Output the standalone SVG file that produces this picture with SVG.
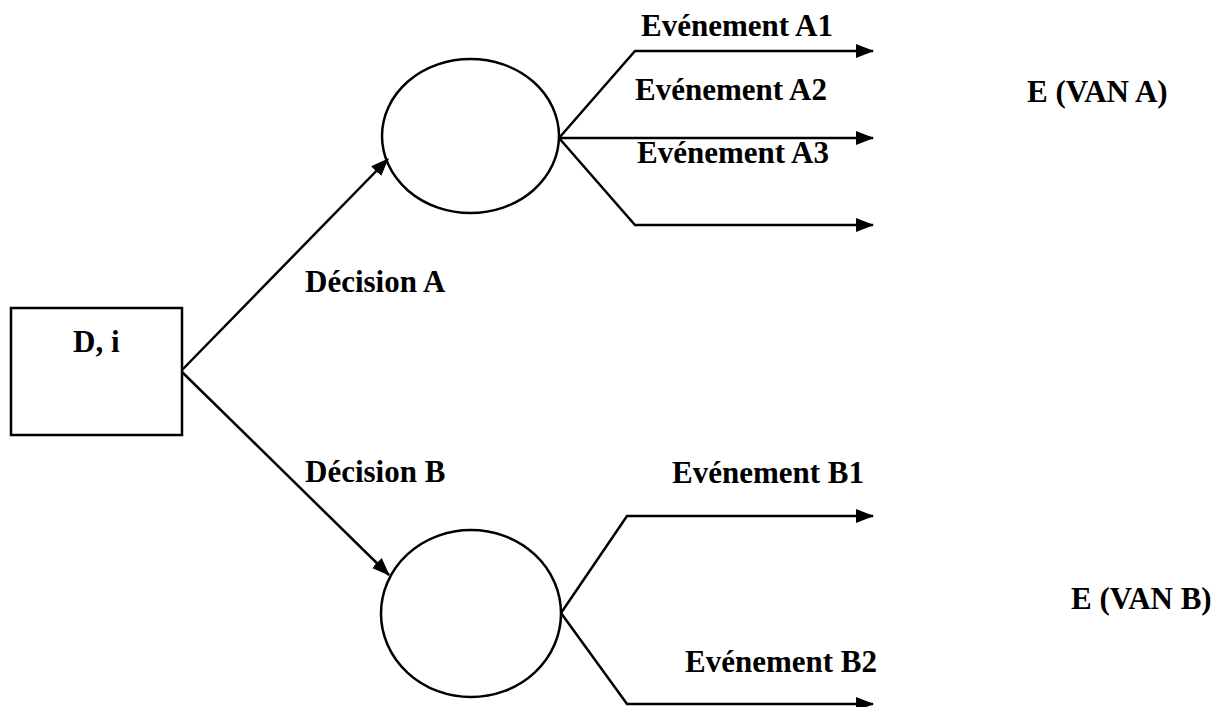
<svg xmlns="http://www.w3.org/2000/svg" width="1221" height="707" viewBox="0 0 1221 707">
  <style>
    .shape { fill: none; stroke: #000; stroke-width: 2.5; }
    .edge { fill: none; stroke: #000; stroke-width: 2.5; stroke-linejoin: miter; }
    text { font-family: 'Liberation Serif', 'DejaVu Serif', serif; font-weight: 700; font-size: 31px; fill: #000; }
  </style>
  <defs>
    <marker id="arrow" markerUnits="userSpaceOnUse" markerWidth="18" markerHeight="14" viewBox="0 0 18 14" refX="17" refY="7" orient="auto">
      <path d="M0,0 L18,7 L0,14 Z" fill="#000"/>
    </marker>
  </defs>
  <rect width="1221" height="707" fill="#fff"/>

  <g id="connectors">
    <line class="edge" x1="182" y1="370" x2="388" y2="159" marker-end="url(#arrow)"/>
    <line class="edge" x1="182" y1="372" x2="389" y2="575" marker-end="url(#arrow)"/>
    <polyline class="edge" points="559,138 635,51 873,51" marker-end="url(#arrow)"/>
    <line class="edge" x1="559" y1="138" x2="873" y2="138" marker-end="url(#arrow)"/>
    <polyline class="edge" points="559,138 635,225 873,225" marker-end="url(#arrow)"/>
    <polyline class="edge" points="561,613 627,516 873,516" marker-end="url(#arrow)"/>
    <polyline class="edge" points="561,613 627,704 873,704" marker-end="url(#arrow)"/>
  </g>

  <g id="decision-root">
    <rect class="shape" x="11" y="308" width="171" height="127"/>
    <text x="73" y="352" font-family="Liberation Serif, serif">D, i</text>
  </g>

  <g id="chance-a">
    <ellipse class="shape" cx="470.5" cy="136" rx="88.5" ry="77"/>
  </g>

  <g id="chance-b">
    <ellipse class="shape" cx="471" cy="613.5" rx="90" ry="83.5"/>
  </g>

  <g id="labels" font-family="Liberation Serif, serif">
    <text x="305" y="292">Décision A</text>
    <text x="305" y="482">Décision B</text>
    <text x="641" y="36">Evénement A1</text>
    <text x="635" y="100">Evénement A2</text>
    <text x="637" y="163">Evénement A3</text>
    <text x="672" y="483">Evénement B1</text>
    <text x="685" y="672">Evénement B2</text>
    <text x="1027" y="102">E (VAN A)</text>
    <text x="1071" y="609">E (VAN B)</text>
  </g>
</svg>
